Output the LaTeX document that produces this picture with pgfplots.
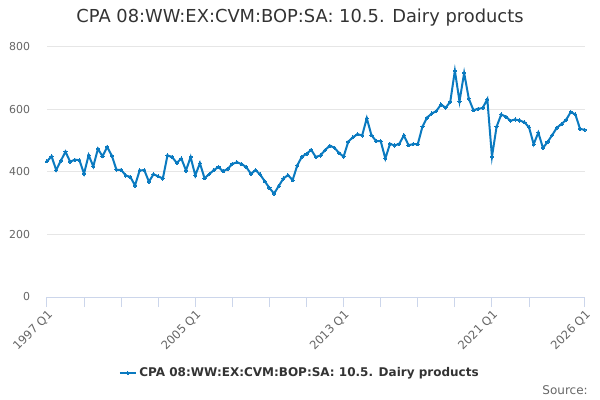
\documentclass[border=0pt]{standalone}
\usepackage{fontspec}
\setmainfont{DejaVu Sans}
\usepackage{pgfplots}
\usepackage{pgfplotstable}
\pgfplotsset{compat=1.18}
\definecolor{linec}{RGB}{10,122,192}
\definecolor{gridc}{HTML}{E6E6E6}
\definecolor{axisc}{HTML}{CCD6EB}
\definecolor{labc}{HTML}{666666}
\definecolor{titc}{HTML}{333333}
\pgfplotstableread{
q v
0 434
1 450
2 406
3 436
4 465
5 433
6 439
7 438
8 395
9 454
10 418
11 474
12 450
13 480
14 452
15 407
16 407
17 389
18 384
19 357
20 405
21 406
22 369
23 393
24 386
25 379
26 453
27 448
28 429
29 443
30 405
31 448
32 389
33 428
34 380
35 393
36 406
37 416
38 402
39 410
40 426
41 431
42 425
43 416
44 394
45 406
46 392
47 370
48 349
49 331
50 355
51 379
52 390
53 374
54 421
55 449
56 458
57 471
58 448
59 453
60 470
61 484
62 478
63 461
64 449
65 497
66 511
67 521
68 517
69 572
70 518
71 499
72 499
73 443
74 490
75 485
76 490
77 517
78 486
79 489
80 489
81 545
82 574
83 587
84 595
85 616
86 606
87 624
88 724
89 626
90 717
91 635
92 598
93 602
94 605
95 633
96 449
97 545
98 584
99 577
100 564
101 568
102 565
103 559
104 543
105 489
106 526
107 477
108 496
109 518
110 542
111 553
112 567
113 592
114 584
115 538
116 535
}\dairy
\begin{document}
\begin{tikzpicture}
\path[use as bounding box] (0,0) rectangle (450pt,300pt);
\node[text=titc, font=\fontsize{13.4}{16}\selectfont] at (225pt,286.9pt) {CPA 08:WW:EX:CVM:BOP:SA: 10.5. Dairy products};
\node[text=labc, font=\fontsize{9}{11}\selectfont, anchor=east, inner sep=0pt] at (441pt,7.5pt) {Source:};
\begin{axis}[
  at={(35.2pt,77.25pt)}, anchor=south west,
  scale only axis, width=403.3pt, height=187.5pt,
  xmin=0, xmax=116, ymin=0, ymax=800,
  axis x line*=bottom, axis y line*=left,
  y axis line style={draw=none},
  x axis line style={draw=axisc, line width=0.75pt},
  ytick={0,200,400,600,800},
  ytick style={draw=none},
  ymajorgrids, grid style={gridc, line width=0.75pt},
  xtick={0,32,64,96,116},
  xticklabels={1997 Q1,2005 Q1,2013 Q1,2021 Q1,2026 Q1},
  minor xtick={8,16,24,40,48,56,72,80,88,104},
  xtick style={draw=axisc, line width=0.75pt},
  tick align=outside, major tick length=7.5pt, minor tick length=7.5pt,
  /pgf/number format/assume math mode=true,
  yticklabel style={text=labc, font=\fontsize{8.2}{10}\selectfont, anchor=east, inner sep=0pt, xshift=-5pt},
  xticklabel style={text=labc, font=\fontsize{8.7}{10}\selectfont, rotate=45, anchor=north east, inner sep=1pt},
  legend style={at={(0.4707,-0.304)}, anchor=center, draw=none, fill=none,
    font=\bfseries\fontsize{9}{11}\selectfont, text=titc},
  legend image code/.code={\draw[mark repeat=2,mark phase=2,#1] plot coordinates {(0pt,0pt) (6pt,0pt) (12pt,0pt)};},
  clip=false,
]
\addplot[linec, line width=1.5pt, mark=*, mark size=1.2pt, mark options={fill=linec, draw=linec, line width=0pt}] table[x=q, y=v] {\dairy};
\addlegendentry{CPA 08:WW:EX:CVM:BOP:SA: 10.5. Dairy products}
\end{axis}
\end{tikzpicture}
\end{document}
